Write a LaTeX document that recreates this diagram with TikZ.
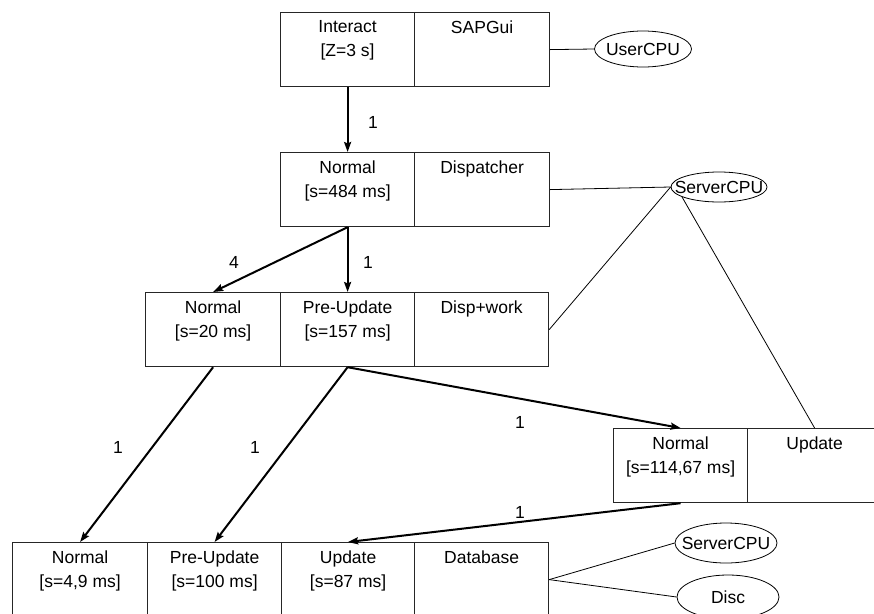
\documentclass[tikz,border=0pt]{standalone}
\usepackage{fontspec}
\setmainfont{Liberation Sans}
\usetikzlibrary{shapes.geometric,arrows.meta}
\begin{document}
\begin{tikzpicture}[x=1pt,y=-1pt,
  cell/.style={draw=black!85, line width=1.2pt, anchor=north west, minimum height=74pt, inner sep=0pt},
  txt/.style={anchor=north, yshift=-8.5pt, inner sep=0pt, align=center, font=\fontsize{17.5}{24}\selectfont},
  res/.style={draw, ellipse, line width=0.8pt, inner xsep=-11pt, inner ysep=0pt, font=\fontsize{17.5}{21}\selectfont},
  arr/.style={line width=2pt, -{Stealth[length=10pt,width=7pt,inset=1.5pt]}},
  link/.style={line width=0.8pt},
  num/.style={inner sep=0pt, font=\fontsize{17.5}{21}\selectfont}]
\fill[white] (0,0) rectangle (874,613);
\useasboundingbox (0,0) rectangle (874,613);

% top row
\node[cell, minimum width=134pt, label={[txt]north:{Interact\\{}[Z=3 s]}}] (A1) at (280,12) {};
\node[cell, minimum width=135pt, label={[txt]north:{SAPGui}}] (A2) at (414,12) {};
% second row
\node[cell, minimum width=134pt, label={[txt]north:{Normal\\{}[s=484 ms]}}] (B1) at (280,152) {};
\node[cell, minimum width=135pt, label={[txt]north:{Dispatcher}}] (B2) at (414,152) {};
% third row
\node[cell, minimum width=135pt, label={[txt]north:{Normal\\{}[s=20 ms]}}] (C1) at (145,292) {};
\node[cell, minimum width=134pt, label={[txt]north:{Pre-Update\\{}[s=157 ms]}}] (C2) at (280,292) {};
\node[cell, minimum width=134pt, label={[txt]north:{Disp+work}}] (C3) at (414,292) {};
% right box
\node[cell, minimum width=134pt, label={[txt]north:{Normal\\{}[s=114,67 ms]}}] (D1) at (613,428) {};
\node[cell, minimum width=134pt, label={[txt]north:{Update}}] (D2) at (747,428) {};
% bottom row
\node[cell, minimum width=135pt, label={[txt]north:{Normal\\{}[s=4,9 ms]}}] (E1) at (12,542) {};
\node[cell, minimum width=134pt, label={[txt]north:{Pre-Update\\{}[s=100 ms]}}] (E2) at (147,542) {};
\node[cell, minimum width=133pt, label={[txt]north:{Update\\{}[s=87 ms]}}] (E3) at (281,542) {};
\node[cell, minimum width=134pt, label={[txt]north:{Database}}] (E4) at (414,542) {};

% resources
\node[res, minimum width=97pt, minimum height=36pt] (U) at (643,49) {UserCPU};
\node[res, minimum width=96pt, minimum height=30pt] (S1) at (719,187) {ServerCPU};
\node[res, minimum width=102pt, minimum height=40pt] (S2) at (726,543) {ServerCPU};
\node[res, minimum width=102pt, minimum height=44pt] (DI) at (728,597) {Disc};

% arrows
\draw[arr] (A1.south) -- (B1.north);
\draw[arr] (B1.south) -- (C1.north);
\draw[arr] (B1.south) -- (C2.north);
\draw[arr] (C1.south) -- (E1.north);
\draw[arr] (C2.south) -- (E2.north);
\draw[arr] (C2.south) -- (D1.north);
\draw[arr] (D1.south) -- (E3.north);

% resource links
\draw[link] (A2.east) -- (U.west);
\draw[link] (B2.east) -- (S1.west);
\draw[link] (C3.east) -- (S1.west);
\draw[link] (S1.195) -- (D2.north);
\draw[link] (E4.east) -- (S2.west);
\draw[link] (E4.east) -- (DI.west);

% numbers
\node[num] (n1) at (373,122) {1};
\node[num] (n2) at (234,262) {4};
\node[num] (n3) at (368,262) {1};
\node[num] (n4) at (118,447) {1};
\node[num] (n5) at (255,447) {1};
\node[num] (n6) at (520,422) {1};
\node[num] (n7) at (520,512) {1};
\end{tikzpicture}
\end{document}
